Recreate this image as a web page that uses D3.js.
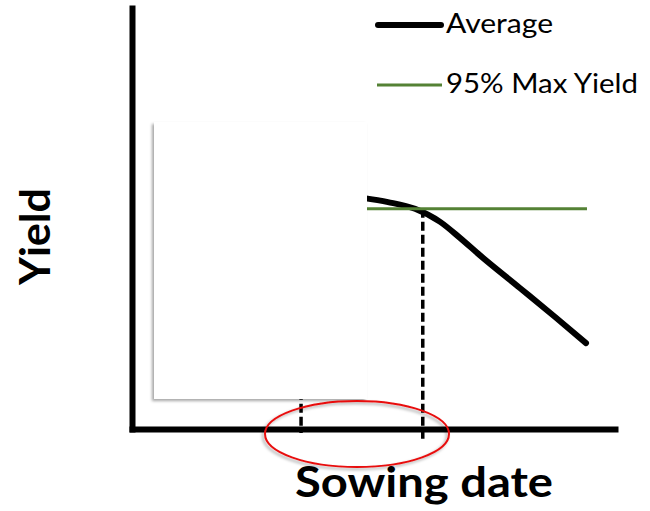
<!DOCTYPE html>
<html>
<head>
<meta charset="utf-8">
<script src="https://cdn.jsdelivr.net/npm/d3@7"></script>
<style>
  body { margin: 0; background: #fff; }
  svg { display: block; }
</style>
</head>
<body>
<div id="chart"></div>
<script>
// Width and height
var chart_width  = 650;
var chart_height = 511;

// Average yield curve (sowing date, yield) - schematic units 0..100
var avg_x = [47.8, 53.0, 58.6, 63.8, 67.9, 72.0, 80.3, 87.6, 94.0];
var avg_y = [54.9, 53.9, 52.3, 49.2, 45.4, 41.3, 33.5, 26.6, 20.4];

// 95% of max yield line
var max95_x = [47.8, 94.2];
var max95_y = 52.3;

// sowing window markers
var window_x = [35.0, 60.2];

var legend_labels = ['Average', '95% Max Yield'];
var axis_titles = ['Sowing date', 'Yield'];

var x = d3.scaleLinear().domain([0, 100]).range([132, 615]);
var y = d3.scaleLinear().domain([0, 100]).range([429, 8]);

var svg = d3.select('#chart')
    .append('svg')
    .attr('width', chart_width)
    .attr('height', chart_height);

var defs = svg.append('defs');
defs.append('filter')
    .attr('id', 'shadow')
    .attr('x', '-10%').attr('y', '-10%')
    .attr('width', '120%').attr('height', '120%')
    .append('feDropShadow')
    .attr('dx', -2).attr('dy', 2)
    .attr('stdDeviation', 1.5)
    .attr('flood-color', '#000')
    .attr('flood-opacity', 0.35);

// axes (no ticks)
svg.append('g')
    .attr('transform', 'translate(0,' + y(0) + ')')
    .call(d3.axisBottom(x).tickValues([]).tickSizeOuter(0))
    .select('.domain')
    .attr('stroke', '#000')
    .attr('stroke-width', 6)
    .attr('stroke-linecap', 'square');

svg.append('g')
    .attr('transform', 'translate(' + x(0) + ',0)')
    .call(d3.axisLeft(y).tickValues([]).tickSizeOuter(0))
    .select('.domain')
    .attr('stroke', '#000')
    .attr('stroke-width', 6)
    .attr('stroke-linecap', 'square');

// dashed markers
svg.append('line')
    .attr('x1', x(window_x[0])).attr('x2', x(window_x[0]))
    .attr('y1', y(max95_y)).attr('y2', y(0) + 4)
    .attr('stroke', '#000').attr('stroke-width', 3.5)
    .attr('stroke-dasharray', '9,4');
svg.append('line')
    .attr('x1', x(window_x[1])).attr('x2', x(window_x[1]))
    .attr('y1', y(max95_y)).attr('y2', y(0) + 11)
    .attr('stroke', '#000').attr('stroke-width', 3.5)
    .attr('stroke-dasharray', '9,4');

// average curve
var avg_data = avg_x.map(function(d, i){ return [d, avg_y[i]]; });
var line = d3.line()
    .x(function(d){ return x(d[0]); })
    .y(function(d){ return y(d[1]); })
    .curve(d3.curveMonotoneX);

svg.append('path')
    .datum(avg_data)
    .attr('d', line)
    .attr('fill', 'none')
    .attr('stroke', '#000')
    .attr('stroke-width', 6)
    .attr('stroke-linecap', 'round');

// 95% max yield line
svg.append('line')
    .attr('x1', x(max95_x[0])).attr('x2', x(max95_x[1]))
    .attr('y1', y(max95_y)).attr('y2', y(max95_y))
    .attr('stroke', '#548235')
    .attr('stroke-width', 3);

// white cover box
svg.append('rect')
    .attr('x', 154).attr('y', 122)
    .attr('width', 213).attr('height', 277)
    .attr('fill', '#fff')
    .attr('filter', 'url(#shadow)');

// red ellipse
svg.append('ellipse')
    .attr('cx', 357).attr('cy', 434)
    .attr('rx', 92).attr('ry', 33)
    .attr('fill', 'none')
    .attr('stroke', '#e81010')
    .attr('stroke-width', 2)
    .attr('filter', 'url(#shadow)');

// legend
var legend = svg.append('g');
legend.append('line')
    .attr('x1', 378).attr('x2', 441).attr('y1', 25).attr('y2', 25)
    .attr('stroke', '#000').attr('stroke-width', 6)
    .attr('stroke-linecap', 'round');
legend.append('line')
    .attr('x1', 377).attr('x2', 442).attr('y1', 85).attr('y2', 85)
    .attr('stroke', '#548235').attr('stroke-width', 3);
legend.selectAll('text')
    .data(legend_labels)
    .enter()
    .append('text')
    .attr('x', 446)
    .attr('y', function(d, i){ return i === 0 ? 33 : 93; })
    .attr('textLength', function(d, i){ return i === 0 ? 107 : 192; })
    .attr('lengthAdjust', 'spacingAndGlyphs')
    .attr('font-family', 'Lato, sans-serif')
    .attr('font-size', 26)
    .attr('fill', '#000')
    .text(function(d){ return d; });

// axis titles
svg.append('text')
    .attr('x', 295).attr('y', 497)
    .attr('textLength', 258)
    .attr('lengthAdjust', 'spacingAndGlyphs')
    .attr('font-family', 'Lato, sans-serif')
    .attr('font-weight', 'bold')
    .attr('font-size', 42)
    .attr('fill', '#000')
    .text(axis_titles[0]);

svg.append('text')
    .attr('transform', 'translate(50,285) rotate(-90)')
    .attr('textLength', 97)
    .attr('lengthAdjust', 'spacingAndGlyphs')
    .attr('font-family', 'Lato, sans-serif')
    .attr('font-weight', 'bold')
    .attr('font-size', 42)
    .attr('fill', '#000')
    .text(axis_titles[1]);
</script>
</body>
</html>
